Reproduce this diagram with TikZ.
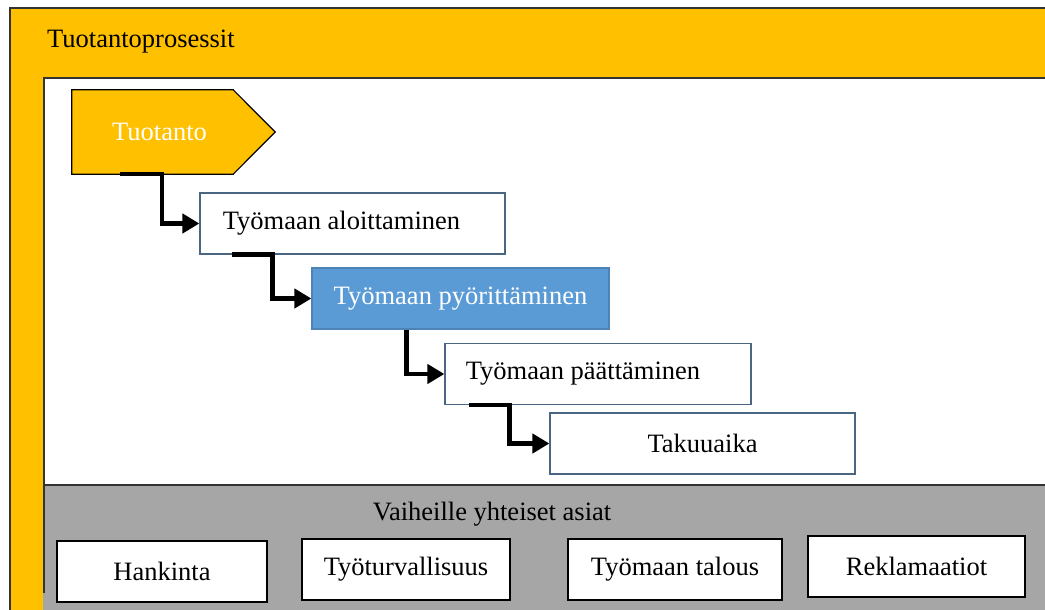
\documentclass[tikz,border=0pt]{standalone}
\usepackage{fontspec}
\setmainfont{Liberation Serif}
\usetikzlibrary{arrows.meta, positioning, calc, backgrounds}
\definecolor{procYellow}{HTML}{FFC000}
\definecolor{procBlue}{HTML}{5B9BD5}
\definecolor{commonGray}{HTML}{A6A6A6}
\definecolor{frameDark}{HTML}{333333}
\definecolor{boxEdge}{HTML}{4A6683}
\begin{document}
\begin{tikzpicture}[x=1pt, y=-1pt,
    every node/.style={font=\fontsize{26.5}{31}\selectfont},
    phase/.style={rectangle, draw=boxEdge, line width=1.2pt, fill=white,
                  minimum width=305pt, minimum height=61pt, inner sep=0pt},
    common/.style={rectangle, draw=black, line width=2pt, fill=white,
                   minimum height=61pt, inner sep=0pt},
    flow/.style={-{Triangle[length=17pt, width=19pt]}, line width=4.5pt,
                 black},
  ]
    \clip (0,0) rectangle (1045,610);

    \node[text=white, minimum width=161pt, minimum height=84pt,
          inner sep=0pt] (tuot) at (152.5,132) {\hspace*{14pt}Tuotanto};
    \node[phase] (b1) at (352.5,223.5) {Työmaan aloittaminen\hspace*{22pt}};
    \node[phase, fill=procBlue, draw=procBlue!85!black, text=white,
          minimum width=297pt] (b2) at (460.5,298.5) {Työmaan pyörittäminen};
    \node[phase, minimum width=306pt] (b3) at (598,374)
      {Työmaan päättäminen\hspace*{30pt}};
    \node[phase] (b4) at (702.5,443.5) {Takuuaika};

    \node[anchor=base west, inner sep=0pt] (title) at (47,48)
      {Tuotantoprosessit};
    \node[anchor=base] (yht) at (492,520) {Vaiheille yhteiset asiat};

    \node[common, minimum width=210pt] (h1) at (162,571) {Hankinta};
    \node[common, minimum width=208pt] (h2) at (406,569) {Työturvallisuus};
    \node[common, minimum width=214pt] (h3) at (675,569.5) {Työmaan talous};
    \node[common, minimum width=217pt] (h4) at (916.5,566)
      {Reklamaatiot};

    \draw[flow] ($(tuot.south west)+(48,0)$) -- ++(42,0) |- (b1.west);
    \draw[flow] ($(b1.south west)+(33,0)$) -- ++(40,0) |- (b2.west);
    \draw[flow] ($(b2.south west)+(95,0)$) |- (b3.west);
    \draw[flow] ($(b3.south west)+(25,0)$) -- ++(40,0) |- (b4.west);

    \begin{scope}[on background layer]
      \draw[fill=procYellow, draw=frameDark, line width=2pt]
        (10,8) rectangle (1070,640);
      \fill[commonGray] (43,485) rectangle (1070,640);
      \fill[white] (44,78) rectangle (1070,485);
      \draw[frameDark, line width=2pt] (44,593) -- (44,78) -- (1070,78);
      \draw[frameDark, line width=2pt] (44,485) -- (1070,485);
      \draw[fill=procYellow, draw=black, line width=1.2pt]
        (tuot.north west) -- (tuot.north east)
        -- ($(tuot.east)+(42,0)$) -- (tuot.south east)
        -- (tuot.south west) -- cycle;
    \end{scope}
\end{tikzpicture}
\end{document}
